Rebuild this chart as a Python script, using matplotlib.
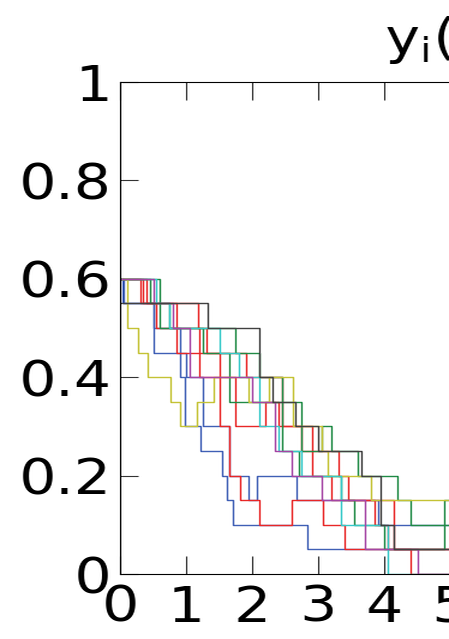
import io
import matplotlib
matplotlib.use("Agg")
import matplotlib.pyplot as plt
from PIL import Image

plt.rcParams["font.family"] = "DejaVu Sans"

# step trajectories y_i(t): switch times and the level held from each time on
t_blue1 = [0, 0.05, 0.5, 0.9, 0.98, 1.21, 1.55, 1.62, 1.7, 2.84]
y_blue1 = [0.6, 0.55, 0.5, 0.4, 0.3, 0.25, 0.2, 0.15, 0.1, 0.05]

t_blue2 = [0, 0.03, 0.5, 1.0, 1.25, 1.65, 1.95, 2.08, 2.68, 3.9]
y_blue2 = [0.6, 0.55, 0.45, 0.4, 0.3, 0.2, 0.15, 0.2, 0.15, 0.1]

t_red1 = [0, 0.4, 0.85, 1.2, 1.5, 1.65, 1.82, 2.1, 2.6, 3.07, 3.4, 4.4]
y_red1 = [0.6, 0.55, 0.45, 0.4, 0.3, 0.2, 0.15, 0.1, 0.15, 0.1, 0.05, 0.0]

t_red2 = [0, 0.35, 0.55, 1.2, 1.5, 1.75, 2.2, 2.4, 2.9, 3.2, 3.85, 4.05]
y_red2 = [0.6, 0.55, 0.5, 0.45, 0.4, 0.3, 0.35, 0.3, 0.2, 0.15, 0.1, 0.05]

t_red3 = [0, 0.3, 1.18, 1.3, 1.9, 2.45, 2.75, 3.3, 3.45, 4.15]
y_red3 = [0.6, 0.55, 0.5, 0.45, 0.4, 0.3, 0.25, 0.2, 0.15, 0.05]

t_green1 = [0, 0.6, 0.75, 1.75, 2.1, 2.45, 2.75, 3.05, 3.2, 3.6, 4.2, 4.4]
y_green1 = [0.6, 0.55, 0.5, 0.45, 0.4, 0.35, 0.25, 0.3, 0.25, 0.2, 0.15, 0.1]

t_green2 = [0, 0.45, 0.6, 1.25, 1.65, 2.45, 2.7, 3.35, 3.55, 4.0, 4.9]
y_green2 = [0.6, 0.55, 0.5, 0.45, 0.35, 0.25, 0.2, 0.15, 0.1, 0.05, 0.15]

t_yellow = [0, 0.1, 0.27, 0.41, 0.76, 0.91, 1.17, 1.41, 1.95, 2.25, 2.62, 3.05, 3.15, 3.8]
y_yellow = [0.6, 0.5, 0.45, 0.4, 0.35, 0.3, 0.35, 0.4, 0.35, 0.4, 0.3, 0.25, 0.2, 0.15]

t_cyan = [0, 0.55, 0.75, 1.5, 1.8, 2.1, 2.4, 2.75, 3.35, 4.05]
y_cyan = [0.6, 0.55, 0.5, 0.45, 0.4, 0.3, 0.25, 0.2, 0.1, 0.0]

t_magenta = [0, 0.5, 0.8, 1.05, 2.0, 2.35, 2.6, 3.05, 3.7, 4.5]
y_magenta = [0.6, 0.55, 0.5, 0.4, 0.35, 0.25, 0.2, 0.15, 0.05, 0.0]

t_gray = [0, 1.32, 2.1, 2.3, 2.65, 3.0, 3.65, 3.95, 4.15]
y_gray = [0.55, 0.5, 0.4, 0.35, 0.3, 0.25, 0.2, 0.1, 0.05]

x_ticks = [0, 1, 2, 3, 4, 5, 6, 7, 8, 9, 10]
y_ticks = [0, 0.2, 0.4, 0.6, 0.8, 1]
y_ticklabels = ["0", "0.2", "0.4", "0.6", "0.8", "1"]

series = [
    (t_blue1, y_blue1, "#3f5fb5"),
    (t_blue2, y_blue2, "#3f5fb5"),
    (t_red1, y_red1, "#e82626"),
    (t_red2, y_red2, "#e82626"),
    (t_red3, y_red3, "#e82626"),
    (t_green1, y_green1, "#1f8a45"),
    (t_green2, y_green2, "#1f8a45"),
    (t_yellow, y_yellow, "#c4c234"),
    (t_cyan, y_cyan, "#34c8c8"),
    (t_magenta, y_magenta, "#a444a4"),
    (t_gray, y_gray, "#404040"),
]

t_end = 10
out_w, out_h = 449, 639
stretch = 1.2  # the figure is drawn narrow, then widened to the final size

fig = plt.figure(figsize=(out_w / stretch / 100, out_h / 100), dpi=100)
ax = fig.add_axes([0.2673, 0.1017, 1.47, 0.77])

for t, y, c in series:
    ax.step(t + [t_end], y + [y[-1]], where="post", color=c, linewidth=1.0)

ax.set_xlim(0, 10)
ax.set_ylim(0, 1)
ax.set_xticks(x_ticks)
ax.set_xticklabels([str(v) for v in x_ticks])
ax.set_yticks(y_ticks)
ax.set_yticklabels(y_ticklabels)
ax.tick_params(direction="in", width=0.8, labelsize=35,
               top=True, right=True, color="#333333")
ax.tick_params(axis="x", length=13, pad=7)
ax.tick_params(axis="y", length=11, pad=5)
for s in ax.spines.values():
    s.set_linewidth(0.8)
ax.set_title(r"y$_\mathregular{i}$(t)", fontsize=35, pad=20, x=0.486)

buf = io.BytesIO()
fig.savefig(buf, dpi=100, format="png")
buf.seek(0)
Image.open(buf).resize((out_w, out_h), Image.LANCZOS).save("out.png")
